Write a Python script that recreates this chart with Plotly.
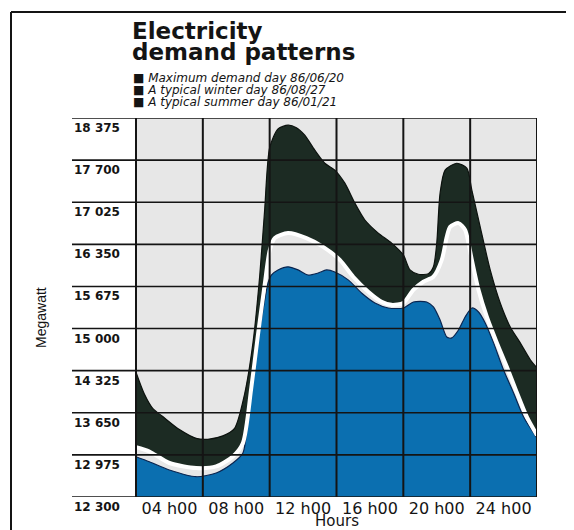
"""Electricity demand patterns - daily load curves."""

import plotly.graph_objects as go

# hours of the day
max_hours = [0, 0.5, 1.0, 1.6, 2.6, 3.6, 4.3, 5.2, 5.9, 6.5, 7.0, 7.4, 7.7, 8.0, 8.5, 9.1,
             9.6, 10.1, 10.7, 11.3, 11.9, 12.5, 13.1, 13.7, 14.5, 15.3, 16.0, 16.4, 16.9,
             17.5, 17.8, 18.0, 18.2, 18.5, 19.2, 19.8, 20.1, 20.6, 21.2, 21.8, 22.4, 23.0,
             23.6, 24.0]
max_mw = [14300, 13950, 13720, 13590, 13380, 13240, 13225, 13280, 13400, 13950, 14770,
          15830, 16900, 17900, 18200, 18260, 18220, 18100, 17860, 17650, 17540, 17330,
          17010, 16740, 16530, 16370, 16180, 15940, 15870, 15880, 15990, 16370, 17170,
          17540, 17650, 17570, 17220, 16630, 15940, 15410, 15025, 14770, 14500, 14370]

winter_hours = [0, 0.8, 2.0, 3.6, 4.8, 5.8, 6.4, 6.9, 7.3, 7.7, 8.0, 8.3, 9.1, 10.2, 11.2,
                12.2, 13.0, 13.9, 14.7, 15.3, 16.0, 16.6, 17.2, 17.8, 18.3, 18.6, 18.8,
                19.3, 19.7, 19.9, 20.1, 20.5, 21.0, 21.6, 22.2, 22.8, 23.4, 24.0]
winter_mw = [13100, 13030, 12845, 12765, 12790, 12950, 13165, 14050, 14900, 15700, 16250,
             16450, 16530, 16450, 16310, 16100, 15830, 15590, 15430, 15380, 15410, 15620,
             15750, 15830, 16100, 16470, 16630, 16690, 16580, 16370, 16100, 15620, 15185,
             14770, 14385, 13970, 13580, 13290]

summer_hours = [0, 0.8, 2.0, 3.6, 4.8, 5.8, 6.4, 6.8, 7.2, 7.6, 7.9, 8.1, 8.5, 9.1, 9.7,
                10.3, 10.9, 11.4, 11.9, 12.7, 13.5, 14.3, 15.1, 16.0, 16.6, 17.4, 17.8,
                18.2, 18.6, 18.9, 19.3, 19.7, 20.1, 20.5, 20.9, 21.4, 22.0, 22.6, 23.2, 24.0]
summer_mw = [12946, 12866, 12733, 12625, 12685, 12845, 13005, 13850, 14657, 15300, 15730,
             15858, 15940, 15990, 15940, 15858, 15890, 15940, 15907, 15780, 15570, 15410,
             15330, 15330, 15426, 15426, 15346, 15137, 14865, 14850, 14977, 15185, 15330,
             15266, 15090, 14770, 14336, 13967, 13582, 13245]

y_ticks = [12300, 12975, 13650, 14325, 15000, 15675, 16350, 17025, 17700, 18375]
y_tick_text = ["12 300", "12 975", "13 650", "14 325", "15 000", "15 675", "16 350",
               "17 025", "17 700", "18 375"]
x_grid = [0, 4, 8, 12, 16, 20, 24]
x_ticks = [2, 6, 10, 14, 18, 22]
x_tick_text = ["04 h00", "08 h00", "12 h00", "16 h00", "20 h00", "24 h00"]

series_names = ["Maximum demand day 86/06/20", "A typical winter day 86/08/27",
                "A typical summer day 86/01/21"]

DARK = "#1c2b23"
BLUE = "#0b6fb0"
INK = "#141414"

# the page puts an 8px body margin around the plot, so the figure is drawn
# 8px smaller and every target pixel (measured on the scan) is shifted back
OFF = 8
W, H = 574 - OFF, 530 - OFF
L, T = 72 - OFF, 118 - OFF
PW, PH = 537 - 72, 497 - 118
R, B = W - L - PW, H - T - PH
X_START = -(136 - 72) / (537 - 136) * 24  # room for the tick labels left of 0h


def px_x(px):
    return (px - OFF - L) / PW


def px_y(py):
    return (H - B - (py - OFF)) / PH


fig = go.Figure()

fig.add_trace(go.Scatter(
    x=summer_hours, y=summer_mw, name=series_names[2], mode="lines",
    line=dict(color="#0a2550", width=1.2, shape="spline", smoothing=0.7),
    fill="tozeroy", fillcolor=BLUE,
))
fig.add_trace(go.Scatter(
    x=winter_hours, y=winter_mw, name=series_names[1], mode="lines",
    line=dict(color="white", width=4, shape="spline", smoothing=0.7),
))
fig.add_trace(go.Scatter(
    x=max_hours, y=max_mw, name=series_names[0], mode="lines",
    line=dict(color="#0c120e", width=1.2, shape="spline", smoothing=0.7),
    fill="tonexty", fillcolor=DARK,
))

shapes = []
# grey panel behind the curves
shapes.append(dict(type="rect", xref="x", yref="y", x0=0, x1=24, y0=12300, y1=18375,
                   fillcolor="#e7e7e7", line_width=0, layer="below"))
for v in y_ticks:
    shapes.append(dict(type="line", xref="paper", yref="y", x0=0, x1=1, y0=v, y1=v,
                       line=dict(color=INK, width=1.6), layer="above"))
for h in x_grid:
    shapes.append(dict(type="line", xref="x", yref="y", x0=h, x1=h, y0=12300, y1=18375,
                       line=dict(color=INK, width=2), layer="above"))
# frame of the page
shapes.append(dict(type="line", xref="paper", yref="paper", x0=px_x(11), x1=px_x(574),
                   y0=px_y(12), y1=px_y(12), line=dict(color=INK, width=2)))
shapes.append(dict(type="line", xref="paper", yref="paper", x0=px_x(11), x1=px_x(11),
                   y0=px_y(12), y1=px_y(530), line=dict(color=INK, width=2)))

annotations = []
for v, txt in zip(y_ticks, y_tick_text):
    annotations.append(dict(x=0, xref="paper", y=v, yref="y", text=txt, showarrow=False,
                            xanchor="left", yanchor="top", yshift=-1,
                            font=dict(family="DejaVu Sans", size=12, color=INK, weight="bold")))

for i, line in enumerate(["Electricity", "demand patterns"]):
    annotations.append(dict(x=px_x(130), xref="paper", y=px_y(31 + 21 * i), yref="paper",
                            text=line, showarrow=False, xanchor="left", yanchor="middle",
                            font=dict(family="DejaVu Sans", size=23, color=INK, weight="bold")))

for i, name in enumerate(series_names):
    annotations.append(dict(x=px_x(131), xref="paper", y=px_y(78 + 12 * i), yref="paper",
                            text="■ <i>" + name + "</i>", showarrow=False,
                            xanchor="left", yanchor="middle",
                            font=dict(family="DejaVu Sans", size=12, color=INK)))

annotations.append(dict(x=px_x(41), xref="paper", y=px_y(318), yref="paper",
                        text="Megawatt", textangle=-90, showarrow=False,
                        xanchor="center", yanchor="middle",
                        font=dict(family="Liberation Sans", size=14, color=INK)))
annotations.append(dict(x=12, xref="x", y=px_y(521), yref="paper", text="Hours",
                        showarrow=False, xanchor="center", yanchor="middle",
                        font=dict(family="DejaVu Sans", size=15, color=INK)))

fig.update_layout(
    width=W, height=H,
    margin=dict(l=L, r=R, t=T, b=B),
    paper_bgcolor="white", plot_bgcolor="white",
    showlegend=False,
    shapes=shapes, annotations=annotations,
)
fig.update_xaxes(range=[X_START, 24], tickvals=x_ticks, ticktext=x_tick_text,
                 showgrid=False, zeroline=False, ticks="", ticklen=0,
                 tickfont=dict(family="DejaVu Sans", size=16, color=INK))
fig.update_yaxes(range=[12300, 18375], showgrid=False, zeroline=False,
                 showticklabels=False, ticks="")

fig.write_html("out.html")
